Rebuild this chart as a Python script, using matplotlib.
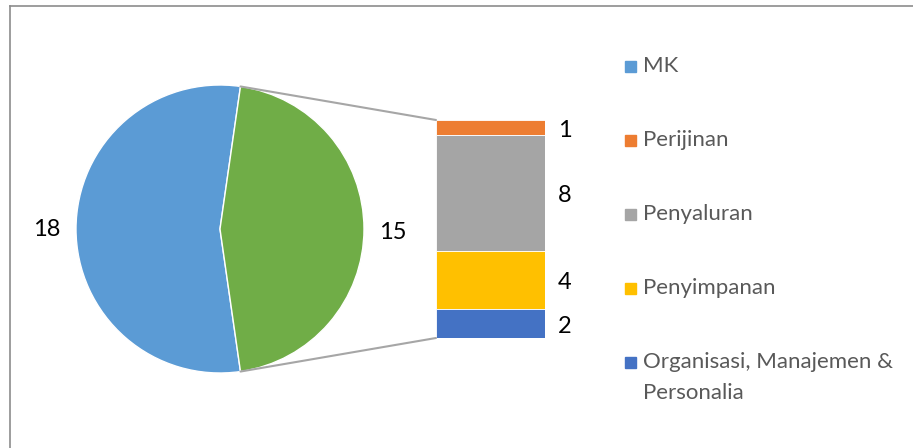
import matplotlib
matplotlib.use("Agg")
import matplotlib.pyplot as plt
from matplotlib.patches import Rectangle, ConnectionPatch
import numpy as np

plt.rcParams['font.family'] = ['Lato', 'DejaVu Sans']

# data
pie_labels = ['MK', 'Lainnya']
pie_values = [18, 15]
pie_colors = ['#5B9BD5', '#70AD47']

bar_labels = ['Perijinan', 'Penyaluran', 'Penyimpanan', 'Organisasi, Manajemen &\nPersonalia']
bar_values = [1, 8, 4, 2]
bar_colors = ['#ED7D31', '#A5A5A5', '#FFC000', '#4472C4']

W, H = 913, 448
fig = plt.figure(figsize=(W / 100, H / 100), dpi=100)

# main axes in pixel-ish coordinates (y up)
ax = fig.add_axes([0, 0, 1, 1])

cx, cy, r = 220, 219, 144
start = pie_values[1] / sum(pie_values) * 180
ax.pie(pie_values, colors=pie_colors, startangle=start, center=(cx, cy), radius=r,
       wedgeprops=dict(linewidth=1, edgecolor='white'), frame=True)
ax.set_xlim(0, W)
ax.set_ylim(0, H)
ax.set_aspect('auto')
ax.axis('off')

ax.text(47, 219, str(pie_values[0]), ha='center', va='center', fontsize=17, color='black')
ax.text(393, 216, str(pie_values[1]), ha='center', va='center', fontsize=17, color='black')

# stacked bar
ax2 = fig.add_axes([436 / W, 110 / H, 109 / W, 218 / H])
total = sum(bar_values)
top = total
for v, c in zip(bar_values, bar_colors):
    ax2.bar(0, v, bottom=top - v, width=1, color=c, edgecolor='white', linewidth=0.6)
    ax2.text(0.68, top - v / 2 - 0.2, str(v), ha='center', va='center', fontsize=17,
             color='black', clip_on=False)
    top -= v
ax2.set_xlim(-0.5, 0.5)
ax2.set_ylim(0, total)
ax2.axis('off')

# connector lines
ang = np.deg2rad(start)
for sgn, ybar in [(1, total), (-1, 0)]:
    p = (cx + r * np.cos(ang), cy + sgn * r * np.sin(ang))
    con = ConnectionPatch(xyA=p, coordsA=ax.transData, xyB=(-0.5, ybar), coordsB=ax2.transData,
                          color='#A6A6A6', linewidth=1.5)
    fig.add_artist(con)

# legend
leg_items = [pie_labels[0]] + bar_labels
leg_colors = [pie_colors[0]] + bar_colors
for i, (lab, c) in enumerate(zip(leg_items, leg_colors)):
    y = 382 - i * 74
    ax.add_patch(Rectangle((625, y - 5.5), 11, 11, color=c))
    lines = lab.split('\n')
    for j, line in enumerate(lines):
        ax.text(643, y - 31 * j, line, ha='left', va='center', fontsize=16, color='#595959')

# chart border (left and top)
ax.plot([9.5, 9.5], [0, H - 6], color='#8C8C8C', linewidth=1.2)
ax.plot([9.5, W], [H - 6, H - 6], color='#8C8C8C', linewidth=1.2)

fig.savefig('out.png', dpi=100)
